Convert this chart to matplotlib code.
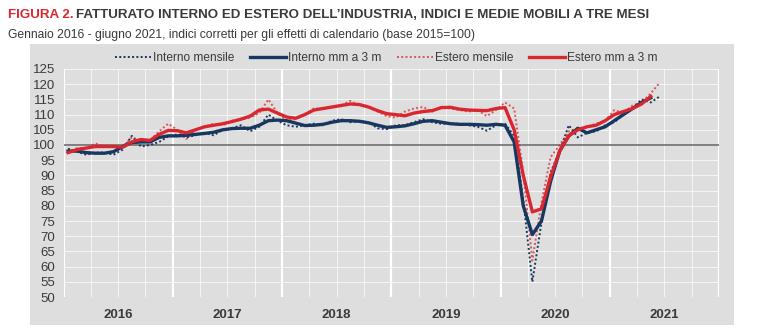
import matplotlib.pyplot as plt
from matplotlib.patches import Rectangle
from matplotlib.lines import Line2D
import numpy as np

# Fatturato dell'industria, indici mensili e medie mobili a 3 mesi (base 2015=100)
years = ['2016', '2017', '2018', '2019', '2020', '2021']

interno_mensile = [
    98.8, 97.8, 96.8, 97.5, 97.5, 96.8, 98.5, 103.0, 99.5, 100.0, 101.0, 102.8,
    103.5, 102.5, 103.2, 104.0, 103.2, 105.0, 105.5, 106.5, 104.5, 106.0, 110.0, 108.0,
    106.5, 106.0, 106.5, 107.0, 106.5, 108.0, 108.5, 107.5, 107.8, 107.5, 105.5, 105.2,
    106.5, 106.5, 107.5, 108.5, 107.5, 107.0, 107.0, 107.0, 106.5, 106.0, 104.7, 106.5,
    107.0, 103.0, 82.0, 55.0, 74.5, 91.0, 98.0, 106.5, 102.5, 104.0, 104.5, 106.5,
    107.5, 110.0, 112.0, 115.0, 114.0, 116.0,
]
interno_mm3 = [
    98.0, 98.0, 97.5, 97.3, 97.3, 97.8, 99.5, 100.8, 101.0, 101.0, 102.5, 103.0,
    103.0, 103.2, 103.5, 103.8, 104.2, 105.0, 105.4, 105.5, 105.5, 106.5, 108.0, 108.2,
    108.0, 107.2, 106.4, 106.5, 106.8, 107.5, 108.0, 108.0, 107.8, 107.3, 106.5, 105.8,
    106.0, 106.3, 107.0, 107.8, 108.0, 107.5, 107.0, 106.8, 106.8, 106.7, 106.5, 106.8,
    106.5, 101.0, 80.0, 70.5, 75.0, 88.0, 98.0, 103.0, 105.5, 104.0, 105.0, 106.0,
    108.0, 110.0, 112.0, 114.0, 115.5, np.nan,
]
estero_mensile = [
    97.5, 99.0, 99.0, 100.5, 99.5, 99.5, 99.5, 102.5, 101.5, 101.5, 104.5, 107.0,
    105.0, 102.0, 105.0, 106.0, 107.0, 106.5, 108.0, 108.5, 109.0, 110.5, 115.0, 110.5,
    108.0, 108.5, 110.0, 112.0, 112.0, 112.5, 113.0, 114.5, 113.0, 112.5, 111.0, 109.5,
    109.0, 111.0, 112.0, 112.5, 111.0, 112.5, 112.0, 111.5, 111.0, 111.5, 109.5, 111.5,
    114.0, 112.0, 91.0, 62.0, 81.0, 96.0, 100.0, 104.5, 105.5, 106.0, 107.0, 108.0,
    111.5, 110.5, 113.0, 114.0, 117.0, 120.5,
]
estero_mm3 = [
    97.5, 98.5, 99.0, 99.5, 99.5, 99.5, 99.3, 101.0, 101.8, 101.5, 103.5, 104.8,
    104.7, 104.0, 105.0, 106.0, 106.5, 107.0, 107.7, 108.5, 109.5, 111.5, 111.8, 110.5,
    109.2, 108.8, 110.0, 111.5, 112.0, 112.5, 113.0, 113.5, 113.3, 112.5, 111.3, 110.3,
    110.0, 109.6, 110.5, 111.0, 111.3, 112.3, 112.4, 111.8, 111.5, 111.4, 111.3, 112.0,
    112.3, 105.0, 90.0, 78.0, 79.0, 89.5, 98.0, 103.0, 105.0, 106.0, 106.5, 108.0,
    110.0, 111.0, 112.0, 113.5, 116.0, np.nan,
]

navy = '#17375e'
red = '#d8272f'
panel = '#dedede'
txt = '#3a3a3a'

plt.rcParams['font.family'] = ['Liberation Sans', 'DejaVu Sans']

fig = plt.figure(figsize=(7.68, 3.34), dpi=100)
fig.patch.set_facecolor('white')

# grey panel behind legend, plot and year labels
fig.patches.append(Rectangle((30 / 768, 1 - 325 / 334), 704 / 768, 281 / 334,
                             transform=fig.transFigure, facecolor=panel,
                             edgecolor='none', zorder=-10))

t1 = fig.text(0.010, 0.955, 'FIGURA 2.', color=red, fontsize=9.6, fontweight='bold', va='center')
fig.canvas.draw()
bb = t1.get_window_extent(fig.canvas.get_renderer())
fig.text(bb.x1 / 768 + 0.004, 0.955,
         "FATTURATO INTERNO ED ESTERO DELL’INDUSTRIA, INDICI E MEDIE MOBILI A TRE MESI",
         color=txt, fontsize=9.6, fontweight='bold', va='center')
fig.text(0.010, 0.895, 'Gennaio 2016 - giugno 2021, indici corretti per gli effetti di calendario (base 2015=100)',
         color=txt, fontsize=8.7, va='center')

ax = fig.add_axes([63.5 / 768, 1 - 297 / 334, 655.5 / 768, 228 / 334])
ax.set_facecolor(panel)
for s in ax.spines.values():
    s.set_visible(False)

x = np.arange(len(interno_mensile)) + 0.5

# gridlines: quarters and years vertically, every 5 points horizontally
for q in range(0, 73, 3):
    if q % 12 == 0:
        ax.axvline(q, color='white', lw=1.6, zorder=1)
    else:
        ax.axvline(q, color='white', lw=0.6, alpha=0.8, zorder=1)
for v in range(50, 126, 5):
    ax.axhline(v, color='white', lw=0.6, alpha=0.8, zorder=1)
ax.axhline(100, color='#6e6e6e', lw=1.2, zorder=2)

ax.plot(x, interno_mensile, color=navy, lw=1.4, ls=(0, (1, 1.2)), zorder=3)
ax.plot(x, estero_mensile, color=red, lw=1.4, ls=(0, (1, 1.2)), zorder=3, alpha=0.75)
ax.plot(x, interno_mm3, color=navy, lw=2.4, zorder=4)
ax.plot(x, estero_mm3, color=red, lw=2.4, zorder=5)

ax.set_xlim(0, 72)
ax.set_ylim(50, 125)
ax.set_yticks(range(50, 126, 5))
ax.set_xticks([6 + 12 * i for i in range(len(years))])
ax.set_xticklabels(years, fontweight='bold', fontsize=9.5, color='#222222')
ax.tick_params(axis='both', length=0, colors=txt)
ax.tick_params(axis='y', labelsize=9.5, pad=6)
ax.tick_params(axis='x', pad=9)

handles = [
    Line2D([], [], color=navy, lw=1.4, ls=(0, (1, 1.2))),
    Line2D([], [], color=navy, lw=2.4),
    Line2D([], [], color=red, lw=1.4, ls=(0, (1, 1.2)), alpha=0.75),
    Line2D([], [], color=red, lw=2.4),
]
labels = ['Interno mensile', 'Interno mm a 3 m', 'Estero mensile', 'Estero mm a 3 m']
fig.legend(handles, labels, loc='center', bbox_to_anchor=(0.503, 1 - 58 / 334), ncol=4,
           frameon=False, fontsize=8.6, handlelength=3.0, columnspacing=1.3,
           handletextpad=0.2, labelcolor=txt)

fig.savefig('out.png', dpi=100, facecolor='white')
